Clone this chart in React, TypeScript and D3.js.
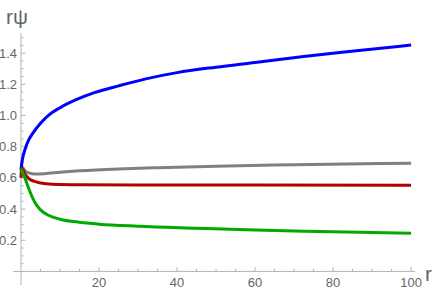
import React from "react";
import * as d3 from "d3";

const W = 436;
const H = 292;

const xTicks = [20, 40, 60, 80, 100];
const yTicks = [0.2, 0.4, 0.6, 0.8, 1.0, 1.2, 1.4];

const rBlue = [0, 0.25, 0.5, 1, 2, 3, 5, 7.5, 10, 14, 19, 25, 32, 40, 50, 60, 73, 86, 100];
const vBlue = [0.65, 0.7, 0.735, 0.78, 0.845, 0.885, 0.95, 1.01, 1.05, 1.1, 1.148, 1.19, 1.235, 1.275, 1.31, 1.34, 1.38, 1.415, 1.452];

const rGray = [0, 0.3, 1, 2, 3.5, 6, 10, 15, 25, 35, 50, 70, 100];
const vGray = [0.65, 0.67, 0.645, 0.632, 0.625, 0.627, 0.636, 0.645, 0.657, 0.665, 0.675, 0.684, 0.694];

const rRed = [0, 0.15, 0.4, 1, 2, 3.5, 5, 8, 15, 30, 60, 100];
const vRed = [0.6, 0.66, 0.655, 0.625, 0.595, 0.577, 0.567, 0.559, 0.556, 0.555, 0.554, 0.553];

const rGreen = [0, 0.3, 1, 2, 3, 4, 5, 7, 10, 15, 20, 30, 45, 60, 80, 100];
const vGreen = [0.66, 0.64, 0.6, 0.53, 0.47, 0.425, 0.395, 0.36, 0.335, 0.315, 0.303, 0.29, 0.277, 0.265, 0.255, 0.245];

const series = [
  { r: rGray, v: vGray, color: "#808080" },
  { r: rBlue, v: vBlue, color: "#0000ff" },
  { r: rRed, v: vRed, color: "#b30000" },
  { r: rGreen, v: vGreen, color: "#00aa00" },
];

export default function App() {
  const x = d3.scaleLinear().domain([-2, 101]).range([13.2, 415]);
  const y = d3.scaleLinear().domain([-0.087, 1.529]).range([285, 33]);
  const line = d3
    .line<[number, number]>()
    .x((d) => x(d[0]))
    .y((d) => y(d[1]))
    .curve(d3.curveMonotoneX);

  const xMinor = d3.range(5, 101, 5).filter((t) => t % 20 !== 0);
  const yMinor = d3.range(0.05, 1.52, 0.05).filter((t) => Math.abs(t * 5 - Math.round(t * 5)) > 1e-6);
  const axisColor = "#b3b3b3";
  const labelColor = "#666666";
  const font = "'Liberation Sans', Arial, sans-serif";

  return (
    <svg
      width={W}
      height={H}
      style={{ position: "absolute", left: 0, top: 0, background: "#fff" }}
      fontFamily={font}
    >
      <line x1={x(-2)} x2={x(101)} y1={y(0)} y2={y(0)} stroke={axisColor} strokeWidth={1} />
      <line x1={x(0)} x2={x(0)} y1={y(-0.087)} y2={y(1.529)} stroke={axisColor} strokeWidth={1} />
      {xTicks.map((t) => (
        <g key={"xt" + t}>
          <line x1={x(t)} x2={x(t)} y1={y(0)} y2={y(0) - 4.5} stroke={axisColor} />
          <text x={x(t)} y={y(0) + 16} textAnchor="middle" fontSize={13} fill={labelColor}>
            {t}
          </text>
        </g>
      ))}
      {xMinor.map((t) => (
        <line key={"xm" + t} x1={x(t)} x2={x(t)} y1={y(0)} y2={y(0) - 2.5} stroke={axisColor} />
      ))}
      {yTicks.map((t) => (
        <g key={"yt" + t}>
          <line x1={x(0)} x2={x(0) + 4.5} y1={y(t)} y2={y(t)} stroke={axisColor} />
          <text x={x(0) - 4} y={y(t) + 4.5} textAnchor="end" fontSize={13} fill={labelColor}>
            {t.toFixed(1)}
          </text>
        </g>
      ))}
      {yMinor.map((t) => (
        <line key={"ym" + t} x1={x(0)} x2={x(0) + 2.5} y1={y(t)} y2={y(t)} stroke={axisColor} />
      ))}
      {series.map((s, i) => (
        <path
          key={i}
          d={line(s.r.map((r, j) => [r, s.v[j]] as [number, number])) || ""}
          fill="none"
          stroke={s.color}
          strokeWidth={3}
          strokeLinejoin="round"
          strokeLinecap="butt"
        />
      ))}
      <text x={6} y={24} fontSize={21} fill={labelColor}>
        {"r\u03C8"}
      </text>
      <text x={425} y={281} fontSize={21} fill={labelColor}>
        r
      </text>
    </svg>
  );
}
